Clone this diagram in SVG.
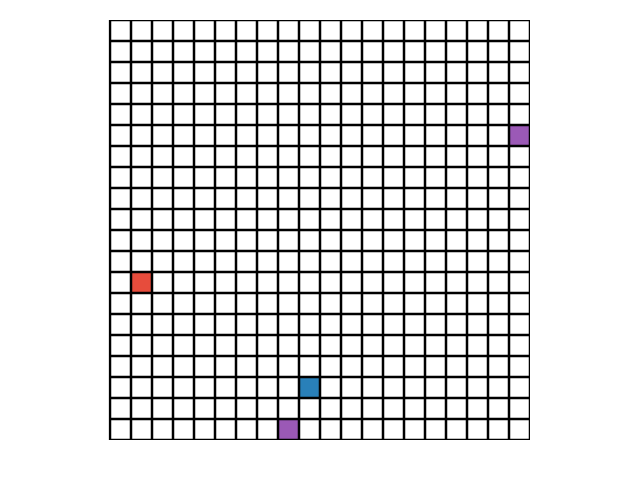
<svg xmlns="http://www.w3.org/2000/svg" width="640" height="480" viewBox="0 0 640 480">
<defs>
<style>
.cell{stroke:none}
.purple{fill:#9b59b6}
.red{fill:#e74c3c}
.blue{fill:#2980b9}
.gridlines{fill:none;stroke:#000;stroke-width:2.5}
</style>
<clipPath id="c"><rect x="108.5" y="20" width="421.5" height="420"/></clipPath>
</defs>
<rect width="640" height="480" fill="#fff"/>
<g id="cells">
<rect id="cell-r5-c19" class="cell purple" x="509" y="125" width="21" height="21"/>
<rect id="cell-r12-c1" class="cell red" x="131" y="272" width="21" height="21"/>
<rect id="cell-r17-c9" class="cell blue" x="299" y="377" width="21" height="21"/>
<rect id="cell-r19-c8" class="cell purple" x="278" y="419" width="21" height="21"/>
</g>
<g id="grid" clip-path="url(#c)">
<path class="gridlines" d="M110 20V440M131 20V440M152 20V440M173 20V440M194 20V440M215 20V440M236 20V440M257 20V440M278 20V440M299 20V440M320 20V440M341 20V440M362 20V440M383 20V440M404 20V440M425 20V440M446 20V440M467 20V440M488 20V440M509 20V440M530 20V440"/>
<path class="gridlines" d="M110 20H530M110 41H530M110 62H530M110 83H530M110 104H530M110 125H530M110 146H530M110 167H530M110 188H530M110 209H530M110 230H530M110 251H530M110 272H530M110 293H530M110 314H530M110 335H530M110 356H530M110 377H530M110 398H530M110 419H530M110 440H530"/>
</g>
</svg>
